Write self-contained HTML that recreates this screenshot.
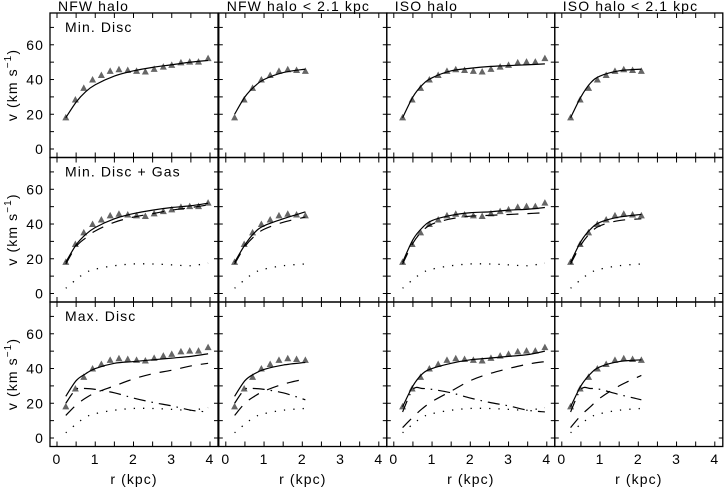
<!DOCTYPE html>
<html><head><meta charset="utf-8"><style>
body{margin:0;background:#fff;}
svg{display:block;font-family:"Liberation Sans",sans-serif;}
svg text{letter-spacing:1.1px;}
</style></head><body>
<svg id="c" width="724" height="491" viewBox="0 0 724 491"></svg>
<script>
const radii=[0.23,0.48,0.70,0.93,1.16,1.39,1.62,1.85,2.08,2.31,2.54,2.78,3.0,3.24,3.47,3.70,3.95];
const vobs=[18.2,28.5,35.2,40,42.6,45,45.9,45.5,45,44.6,46.1,47.4,48.4,49.9,50.3,50.3,52.3];
const rm=[0.23,0.5,0.75,1,1.5,2,2.5,3,3.5,3.95];
const rmS=[0.23,0.5,0.75,1,1.5,2.08];
const colTitles=["NFW halo","NFW halo < 2.1 kpc","ISO halo","ISO halo < 2.1 kpc"];
const rowTitles=["Min. Disc","Min. Disc + Gas","Max. Disc"];
const yTicks=[0,20,40,60];
const xTicks=[0,1,2,3,4];
const gas=[3,8,12,14,16,17,17,16.5,16,17.5];
const gasS=[3,8,12,14,16,17];
// row 1
const r1=[[18,27,33,37,42,45,47,48.5,50,51],[20,30,36,40,44,46],[18,30,37,41,45,46.5,47.5,48,48.5,49],[18,30,38,42,45,46]];
// row 2 totals and halos
const r2tot=[[18,28,34,38,43,46,48,49.5,50.5,52],[18,28,35,39,43,47],[18,31,38,42,45,46.5,47,48,48.5,49.5],[18,30,37,41,44,45.5]];
const r2halo=[[17,27,32,36,41,44,46,48,49.5,51],[17,27,33,37,41,44],[17,29,36,40,43,44.5,45,45.5,46,46.5],[17,28,35,39,42,43]];
// row 3
const r3tot=[[24,33,37,40,43,44,45,46,47,48.5],[24,33,37,39.5,42,43.5],[18,30,37,40,43,45,46,47,48,50],[18,30,37,41,44,45]];
const r3halo=[[13,19,23,26,30,34,37,39,41.5,43],[13,20,24,27,31,34],[6,12,17,21,27,33,37,40,42.5,44],[6,13,18,23,30,36]];
const r3disc=[[20,28,28.5,28,26,23,20.5,18.5,16,15],[20,28,28.5,28,26,22],[15,28,28.5,28,26,23,20.5,18.5,16,15],[15,28,28.5,28,25,22]];

const svg=document.getElementById('c');
const NS="http://www.w3.org/2000/svg";
function mk(t,a,p){const e=document.createElementNS(NS,t);for(const k in a)e.setAttribute(k,a[k]);(p||svg).appendChild(e);return e;}
const colL=[50,218.8,386.8,554.8], colW=168, rowT=[13,157.5,302], rowH=144.5;
function X(c,r){return colL[c]+7+r*38.25;}
function Y(rw,v){return rowT[rw]+136-v*1.737;}
function pathD(c,rw,rs,vs){
  const p=rs.map((r,i)=>[X(c,r),Y(rw,vs[i])]);
  let d="M"+p[0][0]+","+p[0][1];
  for(let i=0;i<p.length-1;i++){
    const p0=p[i-1]||p[i],p1=p[i],p2=p[i+1],p3=p[i+2]||p2;
    d+=" C"+(p1[0]+(p2[0]-p0[0])/6)+","+(p1[1]+(p2[1]-p0[1])/6)+" "+(p2[0]-(p3[0]-p1[0])/6)+","+(p2[1]-(p3[1]-p1[1])/6)+" "+p2[0]+","+p2[1];
  }
  return d;
}
function line(c,rw,rs,vs,dash,name){
  const e=mk('path',{d:pathD(c,rw,rs,vs),fill:'none',stroke:'#000','stroke-width':dash==='dot'?1.3:1.2,'stroke-dasharray':dash==='dash'?'12,9':dash==='dashdot'?'12,6,1.5,6':dash==='dot'?'1.3,8':'none'});
  
  
}
for(let c=0;c<4;c++){
  const short=(c%2===1);
  const rs=short?rmS:rm;
  const n=short?9:17;
  const t=mk('text',{x:colL[c]+8,y:11,'font-size':14});
  t.textContent=colTitles[c];
  
  
  for(let rw=0;rw<3;rw++){
    const g=mk('g',{});
    
    
    mk('rect',{x:colL[c],y:rowT[rw],width:colW,height:rowH,fill:'none',stroke:'#000','stroke-width':1.3},g);
    for(let v=0;v<=70;v+=10){const y=Y(rw,v);mk('line',{x1:colL[c],x2:colL[c]+4,y1:y,y2:y,stroke:'#000'},g);mk('line',{x1:colL[c]+colW,x2:colL[c]+colW-4,y1:y,y2:y,stroke:'#000'},g);}
    for(let r=0;r<=4;r+=0.5){const x=X(c,r);mk('line',{x1:x,x2:x,y1:rowT[rw]+rowH,y2:rowT[rw]+rowH-5,stroke:'#000'},g);mk('line',{x1:x,x2:x,y1:rowT[rw],y2:rowT[rw]+5,stroke:'#000'},g);}
    if(c===0){
      const rt=mk('text',{x:65,y:rowT[rw]+19,'font-size':14});
      rt.textContent=rowTitles[rw];
      
      
      yTicks.forEach(v=>{const tl=mk('text',{x:44,y:Y(rw,v)+5,'font-size':14,'text-anchor':'end'});tl.textContent=v;
        
        });
      const yl=mk('text',{transform:`translate(17,${rowT[rw]+72}) rotate(-90)`,'font-size':14,'text-anchor':'middle'});
      yl.innerHTML='v (km s<tspan dy="-6" font-size="10">−1</tspan><tspan dy="6">)</tspan>';
      
      
    }
    if(rw===0) line(c,0,rs,r1[c],'solid','fit-curve');
    if(rw===1){line(c,1,rs,r2tot[c],'solid','total-curve');line(c,1,rs,r2halo[c],'dash','halo-curve');line(c,1,rs,short?gasS:gas,'dot','gas-curve');}
    if(rw===2){line(c,2,rs,r3tot[c],'solid','total-curve');line(c,2,rs,r3halo[c],'dash','halo-curve');line(c,2,rs,r3disc[c],'dashdot','disc-curve');line(c,2,rs,short?gasS:gas,'dot','gas-curve');}
    for(let i=0;i<n;i++){
      const x=X(c,radii[i]),y=Y(rw,vobs[i]);
      const tr=mk('polygon',{points:`${x-3.5},${y+3} ${x+3.5},${y+3} ${x},${y-3.5}`,fill:'#666'},g);
      
      
    }
  }
  xTicks.forEach(r=>{const tl=mk('text',{x:X(c,r),y:464,'font-size':14,'text-anchor':'middle'});tl.textContent=r;
    
    });
  const xl=mk('text',{x:colL[c]+84,y:484,'font-size':14,'text-anchor':'middle'});
  xl.textContent='r (kpc)';
  
  
}
</script>
</body></html>
